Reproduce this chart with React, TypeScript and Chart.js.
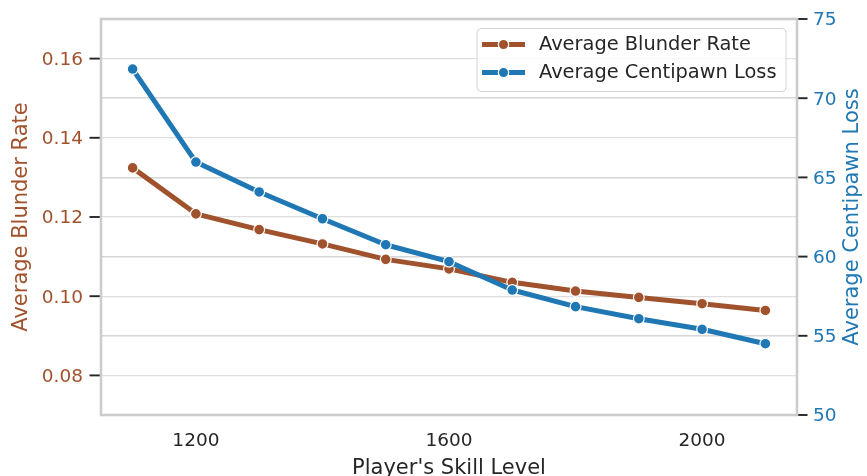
import React, { useEffect, useRef } from "react";
import { Chart, registerables } from "chart.js";

Chart.register(...registerables);

// ---- data ----
const SKILL_LEVELS = [1100, 1200, 1300, 1400, 1500, 1600, 1700, 1800, 1900, 2000, 2100];
const BLUNDER_RATE = [0.1324, 0.1208, 0.1168, 0.1132, 0.1093, 0.1069, 0.1035, 0.1013, 0.0997, 0.0981, 0.0964];
const CENTIPAWN_LOSS = [71.84, 65.97, 64.08, 62.39, 60.75, 59.68, 57.89, 56.84, 56.08, 55.41, 54.5];
const X_TICKS = [1200, 1600, 2000];
const LEFT_TICKS = [0.08, 0.1, 0.12, 0.14, 0.16];
const RIGHT_TICKS = [50, 55, 60, 65, 70, 75];
const SERIES_LABELS = ["Average Blunder Rate", "Average Centipawn Loss"];
const X_TITLE = "Player's Skill Level";
const LEFT_TITLE = "Average Blunder Rate";
const RIGHT_TITLE = "Average Centipawn Loss";

const BROWN = "#a0522d";
const BLUE = "#1f77b4";
const TEXT = "#262626";
const FONT = "'DejaVu Sans', sans-serif";

const framePlugin = {
  id: "frame",
  afterDatasetsDraw(chart: any) {
    const { ctx, chartArea, scales } = chart;
    ctx.save();
    // tick marks on both y axes
    ctx.strokeStyle = TEXT;
    ctx.lineWidth = 1.9;
    ctx.lineCap = "butt";
    LEFT_TICKS.forEach((v) => {
      const y = scales.yL.getPixelForValue(v);
      ctx.beginPath();
      ctx.moveTo(chartArea.left - 11.5, y);
      ctx.lineTo(chartArea.left - 1, y);
      ctx.stroke();
    });
    RIGHT_TICKS.forEach((v) => {
      const y = scales.yR.getPixelForValue(v);
      ctx.beginPath();
      ctx.moveTo(chartArea.right + 1, y);
      ctx.lineTo(chartArea.right + 10.5, y);
      ctx.stroke();
    });
    ctx.strokeStyle = "#cccccc";
    ctx.lineWidth = 2.6;
    ctx.strokeRect(chartArea.left, chartArea.top, chartArea.right - chartArea.left, chartArea.bottom - chartArea.top);
    ctx.restore();
  },
};

const overlayPlugin = {
  id: "overlay",
  afterDraw(chart: any) {
    const { ctx, chartArea } = chart;
    ctx.save();
    // right axis title (reads bottom-to-top like the left one)
    ctx.translate(852.5, (chartArea.top + chartArea.bottom) / 2);
    ctx.rotate(-Math.PI / 2);
    ctx.fillStyle = BLUE;
    ctx.font = `21px ${FONT}`;
    ctx.textAlign = "center";
    ctx.textBaseline = "middle";
    ctx.fillText(RIGHT_TITLE, 0, 0);
    ctx.restore();

    // legend box
    ctx.save();
    const x0 = 477, y0 = 28.5, w = 309, h = 63, r = 4;
    ctx.beginPath();
    ctx.moveTo(x0 + r, y0);
    ctx.lineTo(x0 + w - r, y0);
    ctx.arcTo(x0 + w, y0, x0 + w, y0 + r, r);
    ctx.lineTo(x0 + w, y0 + h - r);
    ctx.arcTo(x0 + w, y0 + h, x0 + w - r, y0 + h, r);
    ctx.lineTo(x0 + r, y0 + h);
    ctx.arcTo(x0, y0 + h, x0, y0 + h - r, r);
    ctx.lineTo(x0, y0 + r);
    ctx.arcTo(x0, y0, x0 + r, y0, r);
    ctx.closePath();
    ctx.fillStyle = "rgba(255,255,255,0.8)";
    ctx.fill();
    ctx.strokeStyle = "#d4d4d4";
    ctx.lineWidth = 1;
    ctx.stroke();

    const rows = [44.5, 72.5];
    chart.data.datasets.forEach((ds: any, i: number) => {
      const y = rows[i];
      ctx.strokeStyle = ds.borderColor;
      ctx.lineWidth = 5;
      ctx.lineCap = "butt";
      ctx.beginPath();
      ctx.moveTo(482, y);
      ctx.lineTo(525, y);
      ctx.stroke();
      ctx.beginPath();
      ctx.arc(503.5, y, 5.2, 0, Math.PI * 2);
      ctx.fillStyle = ds.borderColor;
      ctx.fill();
      ctx.strokeStyle = "#ffffff";
      ctx.lineWidth = 1.2;
      ctx.stroke();
      ctx.fillStyle = TEXT;
      ctx.font = `19.4px ${FONT}`;
      ctx.textAlign = "left";
      ctx.textBaseline = "middle";
      ctx.fillText(ds.label, 539, y + 0.8);
    });
    ctx.restore();
  },
};

export default function App() {
  const canvasRef = useRef<HTMLCanvasElement | null>(null);

  useEffect(() => {
    const canvas = canvasRef.current;
    if (!canvas) return;
    const chart = new Chart(canvas, {
      type: "line",
      data: {
        datasets: [
          {
            label: SERIES_LABELS[0],
            data: SKILL_LEVELS.map((x, i) => ({ x, y: BLUNDER_RATE[i] })),
            yAxisID: "yL",
            borderColor: BROWN,
            backgroundColor: BROWN,
            borderWidth: 5,
            pointRadius: 5.4,
            pointHoverRadius: 5.4,
            pointBackgroundColor: BROWN,
            pointBorderColor: "#ffffff",
            pointBorderWidth: 1.2,
            borderJoinStyle: "round",
            tension: 0,
            order: 1,
          },
          {
            label: SERIES_LABELS[1],
            data: SKILL_LEVELS.map((x, i) => ({ x, y: CENTIPAWN_LOSS[i] })),
            yAxisID: "yR",
            borderColor: BLUE,
            backgroundColor: BLUE,
            borderWidth: 5,
            pointRadius: 5.4,
            pointHoverRadius: 5.4,
            pointBackgroundColor: BLUE,
            pointBorderColor: "#ffffff",
            pointBorderWidth: 1.2,
            borderJoinStyle: "round",
            tension: 0,
            order: 0,
          },
        ],
      },
      options: {
        responsive: false,
        animation: false,
        devicePixelRatio: 1,
        layout: { padding: { top: 19, left: 0, right: 0, bottom: 0 } },
        plugins: { legend: { display: false }, tooltip: { enabled: false } },
        scales: {
          x: {
            type: "linear",
            min: 1050,
            max: 2150,
            afterBuildTicks: (axis: any) => {
              axis.ticks = X_TICKS.map((v) => ({ value: v }));
            },
            afterFit: (s: any) => {
              s.height = 61;
            },
            grid: { display: false, drawTicks: false },
            border: { display: false },
            ticks: {
              color: TEXT,
              font: { family: FONT, size: 18.5 },
              padding: 15,
              maxRotation: 0,
              autoSkip: false,
              callback: (v: any) => String(v),
            },
            title: {
              display: true,
              text: X_TITLE,
              color: TEXT,
              font: { family: FONT, size: 21 },
              padding: { top: 0, bottom: -5 },
            },
          },
          yL: {
            type: "linear",
            position: "left",
            min: 0.07,
            max: 0.17,
            afterBuildTicks: (axis: any) => {
              axis.ticks = LEFT_TICKS.map((v) => ({ value: v }));
            },
            afterFit: (s: any) => {
              s.width = 101;
            },
            grid: {
              color: "#dedede",
              lineWidth: 1.2,
              drawTicks: true,
              tickLength: 11,
              tickColor: "rgba(0,0,0,0)",
              tickWidth: 0,
            },
            border: { display: false },
            ticks: {
              color: BROWN,
              font: { family: FONT, size: 18.5 },
              padding: 7,
              labelOffset: 1.5,
              callback: (v: any) => Number(v).toFixed(2),
            },
            title: {
              display: true,
              text: LEFT_TITLE,
              color: BROWN,
              font: { family: FONT, size: 21 },
              padding: { top: 9, bottom: 0 },
            },
          },
          yR: {
            type: "linear",
            position: "right",
            min: 50,
            max: 75,
            afterBuildTicks: (axis: any) => {
              axis.ticks = RIGHT_TICKS.map((v) => ({ value: v }));
            },
            afterFit: (s: any) => {
              s.width = 70;
            },
            grid: {
              color: "#d6d6d6",
              lineWidth: 1.4,
              drawTicks: true,
              tickLength: 11,
              tickColor: "rgba(0,0,0,0)",
              tickWidth: 0,
            },
            border: { display: false },
            ticks: {
              color: BLUE,
              font: { family: FONT, size: 18.5 },
              padding: 5,
              labelOffset: 1.5,
              callback: (v: any) => String(Math.round(Number(v))),
            },
            title: { display: false },
          },
        },
      },
      plugins: [framePlugin, overlayPlugin],
    } as any);
    return () => chart.destroy();
  }, []);

  return (
    <div style={{ position: "fixed", left: 0, top: 0, width: 867, height: 476, background: "#ffffff" }}>
      <canvas ref={canvasRef} width={867} height={476} style={{ display: "block" }} />
    </div>
  );
}
